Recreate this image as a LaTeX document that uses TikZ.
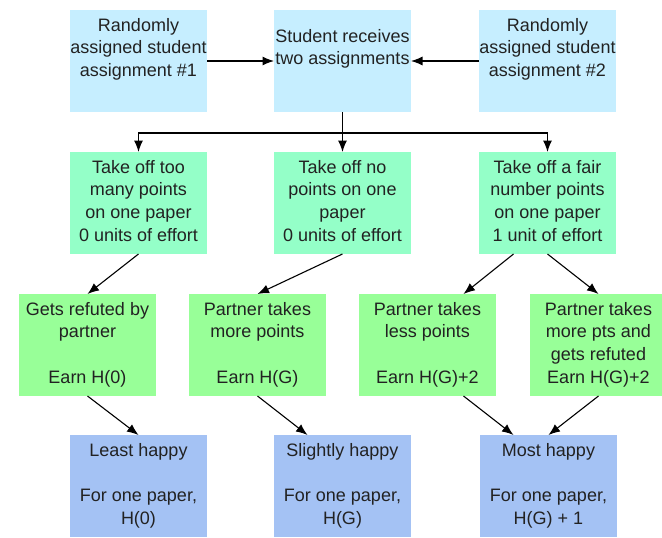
\documentclass[tikz,border=0pt]{standalone}
\usepackage{fontspec}
\setmainfont{Liberation Sans}
\usetikzlibrary{arrows.meta}
\definecolor{cA}{HTML}{C6EEFF}
\definecolor{cB}{HTML}{94FFC8}
\definecolor{cC}{HTML}{98FF98}
\definecolor{cD}{HTML}{A4C2F4}
\definecolor{ink}{HTML}{222222}
\newcommand\boxtext[2][21pt]{\begin{minipage}[t][102pt][t]{137pt}\centering\fontsize{18}{22.7}\selectfont\rule{0pt}{#1}#2\end{minipage}}
\begin{document}
\begin{tikzpicture}[x=1pt,y=-1pt,
  box/.style={draw=none,inner sep=0pt,outer sep=0pt,anchor=north west,text=ink},
  arr/.style={-{Latex[length=11.5pt,width=9pt]},line width=1.1pt,draw=black}]
\useasboundingbox (0,0) rectangle (662,538);
% row 1
\node[box,fill=cA] (a1) at (70,10) {\boxtext{Randomly\\assigned student\\assignment \#1}};
\node[box,fill=cA] (a2) at (274,10) {\boxtext[32pt]{Student receives\\two assignments}};
\node[box,fill=cA] (a3) at (479,10) {\boxtext{Randomly\\assigned student\\assignment \#2}};
% row 2
\node[box,fill=cB] (b1) at (70,152) {\boxtext{Take off too\\many points\\on one paper\\0 units of effort}};
\node[box,fill=cB] (b2) at (274,152) {\boxtext{Take off no\\points on one\\paper\\0 units of effort}};
\node[box,fill=cB] (b3) at (479,152) {\boxtext{Take off a fair\\number points\\on one paper\\1 unit of effort}};
% row 3
\node[box,fill=cC] (c1) at (19,294) {\boxtext{Gets refuted by\\partner\\[22.7pt]Earn H(0)}};
\node[box,fill=cC] (c2) at (189,294) {\boxtext{Partner takes\\more points\\[22.7pt]Earn H(G)}};
\node[box,fill=cC] (c3) at (359,294) {\boxtext{Partner takes\\less points\\[22.7pt]Earn H(G)+2}};
\node[box,fill=cC] (c4) at (530,294) {\boxtext{Partner takes\\more pts and\\gets refuted\\Earn H(G)+2}};
% row 4
\node[box,fill=cD] (d1) at (70,435) {\boxtext{Least happy\\[22.7pt]For one paper,\\H(0)}};
\node[box,fill=cD] (d2) at (274,435) {\boxtext{Slightly happy\\[22.7pt]For one paper,\\H(G)}};
\node[box,fill=cD] (d3) at (480,435) {\boxtext{Most happy\\[22.7pt]For one paper,\\H(G) + 1}};
% connectors
\draw[arr] (a1.east) -- (a2.west);
\draw[arr] (a3.west) -- (a2.east);
\draw[arr] (a2.south) -- (b2.north);
\draw[arr] (a2.south) -- ++(0,21) -| (b1.north);
\draw[arr] (a2.south) -- ++(0,21) -| (b3.north);
\draw[arr] (b1.south) -- (c1.north);
\draw[arr] (b2.south) -- (c2.north);
\draw[arr] ([xshift=-34pt]b3.south) -- ([xshift=36pt]c3.north);
\draw[arr] (b3.south) -- (c4.north);
\draw[arr] (c1.south) -- (d1.north);
\draw[arr] (c2.south) -- ([xshift=-35pt]d2.north);
\draw[arr] ([xshift=36pt]c3.south) -- ([xshift=-35pt]d3.north);
\draw[arr] (c4.south) -- (d3.north);
\end{tikzpicture}
\end{document}
